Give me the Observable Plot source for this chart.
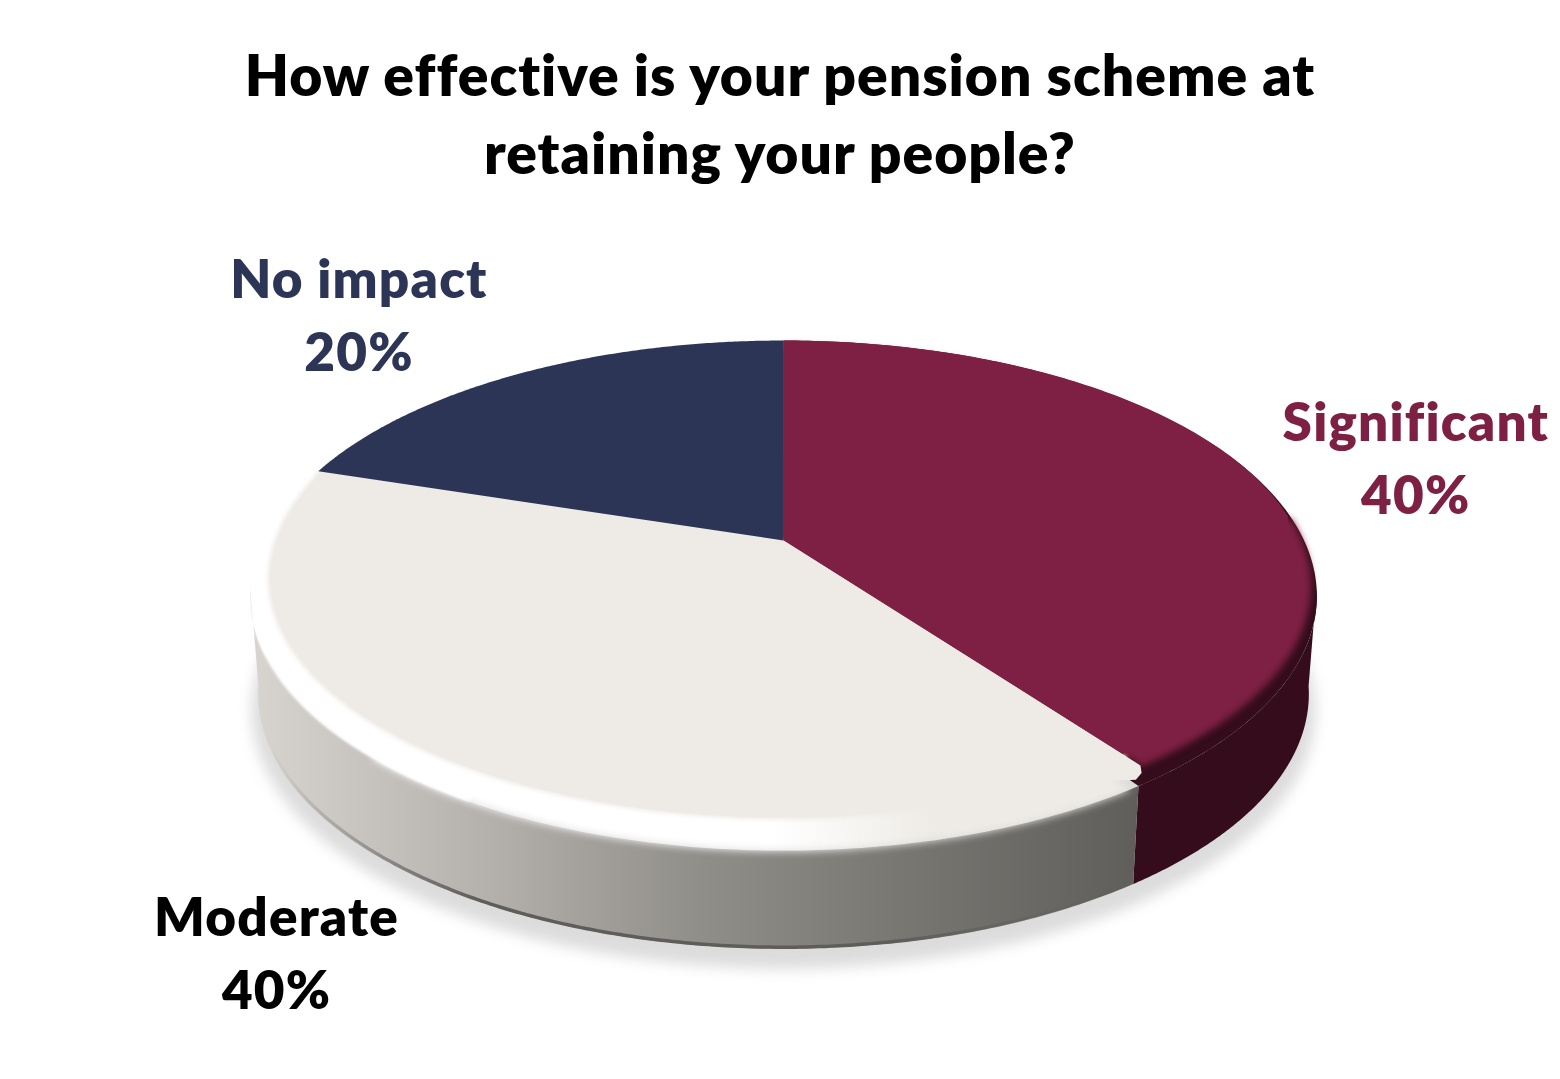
<!DOCTYPE html>
<html><head><meta charset="utf-8">
<script src="https://cdn.jsdelivr.net/npm/d3@7"></script>
<script src="https://cdn.jsdelivr.net/npm/@observablehq/plot@0.6"></script>
<style>
html,body{margin:0;background:#fff;overflow:hidden}
#title{height:200px;box-sizing:border-box;padding-top:35px;text-align:center;font:800 57px/78px Lato,sans-serif;letter-spacing:1px;font-variant-ligatures:none;color:#000;width:1560px}
svg{display:block}
svg text{font-variant-ligatures:none;letter-spacing:1.2px}
</style></head><body>
<div id="title">How effective is your pension scheme at<br>retaining your people?</div>
<div id="chart"></div>
<script>
const categories = ["Significant", "Moderate", "No impact"];
const values = [40, 40, 20];
const colors = ["#7e2043", "#eeebe6", "#2c3556"];
const labelColors = ["#7e2043", "#000000", "#2c3556"];
const labelOffsets = [[167, -17], [-150, 184], [-160, -63]];
const sideDark = "#340c1b";
const sideStops = [[0, "#d8d5d1"], [0.27, "#b4b0ac"], [0.5, "#918f8a"], [0.72, "#797873"], [1, "#5f5e5b"]];

// layout of the projected disc
const W = 1560, H = 879, top0 = 200, cx = 783, cy = 540, A = 517, B = 236.7, persp = 0.1837;
const depth = 98 / B, shrink = 0.985;
const cornerShift = 2.5, silhouetteRight = 101, silhouetteLeft = 259, bandSplit = 215;

const total = d3.sum(values);
const cum = d3.cumsum(values);
const slices = categories.map((c, i) => ({
  name: c, value: values[i],
  a0: (cum[i] - values[i]) / total * 360, a1: cum[i] / total * 360,
  fill: colors[i], labelFill: labelColors[i], off: labelOffsets[i]
}));

const rOuter = v => 1 - 0.014 * (1 - v) + 0.021 * (1 - v) ** 2;
const rFaceCream = v => v > 0.3 ? 1 : 1 - 0.028 * Math.sqrt(0.3 - v);
const rFaceMaroon = v => v > 0.1 ? 1 : 1 - 0.045 * Math.sqrt(0.1 - v);
const rSoft = v => v > 0.1 ? 0.97 : 1.003;
function pt(deg, rf, d = 0, s = 1, grow = 1) {
  const t = deg * Math.PI / 180, u = Math.sin(t), v = Math.cos(t);
  const r = (typeof rf === "function" ? rf(v) : rf) * grow;
  const w = 1 + persp * v * r;
  return { X: s * r * u / w, Y: r * v / w - d };
}
const arc = (a0, a1, rf, d, s, grow) => d3.range(0, 181).map(i => pt(a0 + (a1 - a0) * i / 180, rf, d, s, grow));
const wedge = (a0, a1, rf) => [{ X: 0, Y: 0 }, ...arc(a0, a1, rf)];
const side = (a0, a1) => [...arc(a0, a1, rOuter), ...arc(a0, a1, rOuter, depth, shrink).reverse()];
const poly = (pts, fill, extra = {}) => Plot.line(pts, { x: "X", y: "Y", z: null, curve: "linear-closed", fill, stroke: "none", ...extra });

const [sig, mod, noi] = slices;
const corner = sig.a1 + cornerShift;
const NS = "http://www.w3.org/2000/svg";
function gradDefs() {
  const defs = document.createElementNS(NS, "defs");
  const mk = (id, stops) => {
    const g = document.createElementNS(NS, "linearGradient");
    g.setAttribute("id", id);
    stops.forEach(([o, c]) => { const s = document.createElementNS(NS, "stop"); s.setAttribute("offset", o); s.setAttribute("stop-color", c); g.append(s); });
    defs.append(g);
  };
  mk("sideGrad", sideStops);
  mk("bandGrad", [[0, "#ffffff"], [0.53, "#ffffff"], [0.74, mod.fill], [1, mod.fill]]);
  mk("edgeGrad", [[0, "rgba(95,93,90,0)"], [0.25, "rgba(95,93,90,1)"], [0.75, "rgba(95,93,90,1)"], [1, "rgba(95,93,90,0)"]]);
  return defs;
}

const chart = Plot.plot({
  width: W, height: H, margin: 0,
  x: { axis: null, domain: [-cx / A, (W - cx) / A], range: [0, W] },
  y: { axis: null, domain: [(cy - top0) / B, (cy - top0 - H) / B], range: [0, H] },
  marks: [
    gradDefs,
    // ground shadow
    poly(arc(0, 360, rOuter, depth + 0.065, shrink, 1.012), "#dcdcdc", { imageFilter: "blur(7px)" }),
    // sides
    poly(side(silhouetteRight, corner), sideDark),
    poly(side(corner, silhouetteLeft), "url(#sideGrad)"),
    Plot.line(arc(150, 245, rOuter, depth - 0.006, shrink), { x: "X", y: "Y", stroke: "url(#edgeGrad)", strokeWidth: 3.5, imageFilter: "blur(0.6px)" }),
    // dark bevel under the maroon face
    poly(wedge(sig.a0, corner, rOuter), sideDark),
    // soft bevels
    poly(wedge(sig.a0, sig.a1, rSoft), sig.fill, { imageFilter: "blur(3.5px)" }),
    poly([{ X: 0, Y: 0 }, ...arc(sig.a1 + 3.5, bandSplit + 6, rOuter)], "url(#bandGrad)", { imageFilter: "blur(4.5px)" }),
    poly(wedge(bandSplit - 6, mod.a1, rOuter), "#ffffff", { imageFilter: "blur(1.5px)" }),
    poly(wedge(mod.a0, mod.a1, rFaceCream), mod.fill, { imageFilter: "blur(2px)" }),
    // crisp rounded corner where the cream face meets the maroon one
    poly([{ X: 0, Y: 0 }, pt(sig.a1, 1), pt(sig.a1 + 0.8, 1.018), pt(sig.a1 + 2, 1.028), pt(sig.a1 + 5, 1)], mod.fill),
    // crisp faces
    poly(wedge(sig.a0, sig.a1, rFaceMaroon), sig.fill),
    poly(wedge(mod.a0, mod.a1, v => rFaceCream(v) * 0.995), mod.fill),
    poly(wedge(noi.a0, noi.a1, 1), noi.fill),
    // labels
    ...slices.map(s => {
      const p = pt((s.a0 + s.a1) / 2, 1);
      return Plot.text([p], {
        x: "X", y: "Y", text: () => `${s.name}\n${s.value}%`, dx: s.off[0], dy: s.off[1],
        fill: s.labelFill, fontFamily: "Lato, sans-serif", fontWeight: 800, fontSize: 53, lineHeight: 1.38
      });
    })
  ]
});
document.getElementById("chart").append(chart);
</script>
</body></html>
